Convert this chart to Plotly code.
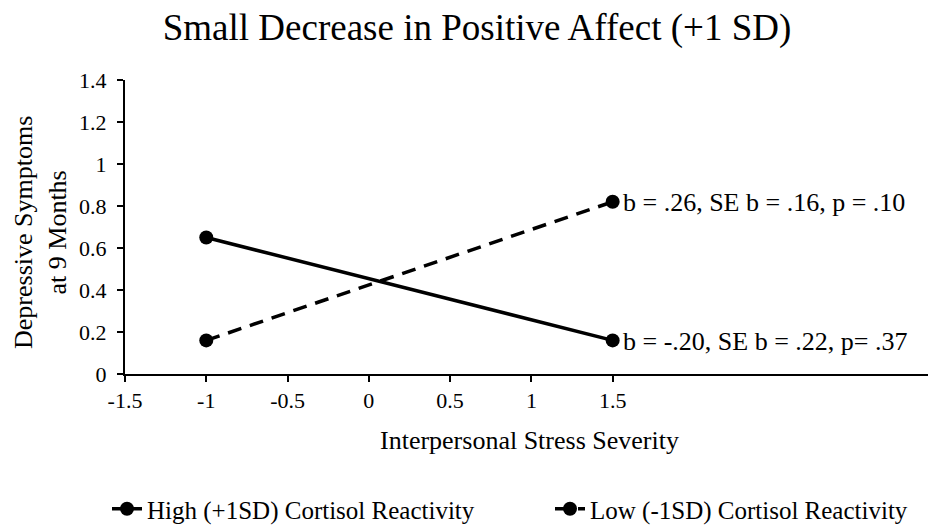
import plotly.graph_objects as go

x_vals = [-1, 1.5]
high_vals = [0.65, 0.16]
low_vals = [0.16, 0.82]
high_name = "High (+1SD) Cortisol Reactivity"
low_name = "Low (-1SD) Cortisol Reactivity"
x_ticks = [-1.5, -1, -0.5, 0, 0.5, 1, 1.5]
x_tick_labels = ["-1.5", "-1", "-0.5", "0", "0.5", "1", "1.5"]
y_ticks = [0, 0.2, 0.4, 0.6, 0.8, 1, 1.2, 1.4]
y_tick_labels = ["0", "0.2", "0.4", "0.6", "0.8", "1", "1.2", "1.4"]
stat_labels = ["b = -.20, SE b = .22, p= .37", "b = .26, SE b = .16, p = .10"]

FONT = "Liberation Serif, Times New Roman, serif"
W, H = 929, 525
L, R, T, B = 125, 1, 80, 151
PW, PH = W - L - R, H - T - B


def px_x(px):
    return (px - L) / PW


def px_y(py):
    return (H - B - py) / PH


fig = go.Figure()
fig.add_trace(go.Scatter(
    x=x_vals, y=high_vals, mode="lines+markers", name=high_name,
    line=dict(color="black", width=3.5),
    marker=dict(color="black", size=14),
))
fig.add_trace(go.Scatter(
    x=x_vals, y=low_vals, mode="lines+markers", name=low_name,
    line=dict(color="black", width=3.5, dash="14px,9px"),
    marker=dict(color="black", size=14),
))

fig.add_annotation(x=x_vals[1], y=high_vals[1], text=stat_labels[0], showarrow=False,
                   xanchor="left", xshift=8, yshift=-1, font=dict(family=FONT, size=26, color="black"))
fig.add_annotation(x=x_vals[1], y=low_vals[1], text=stat_labels[1], showarrow=False,
                   xanchor="left", xshift=8, yshift=-1, font=dict(family=FONT, size=26, color="black"))

# axis titles
fig.add_annotation(xref="paper", yref="paper", x=px_x(378), y=px_y(440),
                   text="Interpersonal Stress Severity", showarrow=False,
                   xanchor="left", yanchor="middle", font=dict(family=FONT, size=26, color="black"))
fig.add_annotation(xref="paper", yref="paper", x=px_x(40), y=px_y(233),
                   text="Depressive Symptoms<br>at 9 Months", showarrow=False, textangle=-90,
                   xanchor="center", yanchor="middle", font=dict(family=FONT, size=26, color="black"))

fig.update_layout(
    width=W, height=H,
    margin=dict(l=L, r=R, t=T, b=B, autoexpand=False),
    paper_bgcolor="white", plot_bgcolor="white",
    font=dict(family=FONT, size=22, color="black"),
    title=dict(text="Small Decrease in Positive Affect (+1 SD)", x=477 / W, xanchor="center",
               y=1 - 27 / H, yanchor="middle", font=dict(family=FONT, size=37, color="black")),
    showlegend=True,
    legend=dict(orientation="h", x=px_x(107), xanchor="left", y=px_y(509), yanchor="middle",
                font=dict(family=FONT, size=25, color="black"),
                entrywidth=398, entrywidthmode="pixels", tracegroupgap=0),
    xaxis=dict(range=[-1.5, 3.44], tickmode="array", tickvals=x_ticks, ticktext=x_tick_labels,
               showgrid=False, zeroline=False, showline=True, linecolor="black", linewidth=2,
               ticks="outside", ticklen=6, tickwidth=1.5, tickcolor="black",
               tickfont=dict(family=FONT, size=22, color="black")),
    yaxis=dict(range=[0, 1.4], tickmode="array", tickvals=y_ticks, ticktext=y_tick_labels,
               showgrid=False, zeroline=False, showline=True, linecolor="black", linewidth=2,
               ticks="outside", ticklen=6, tickwidth=1.5, tickcolor="black", ticklabelstandoff=6,
               tickfont=dict(family=FONT, size=22, color="black")),
)

fig.write_html("out.html", config={"displayModeBar": False},
               post_script="document.body.style.margin='0';")
